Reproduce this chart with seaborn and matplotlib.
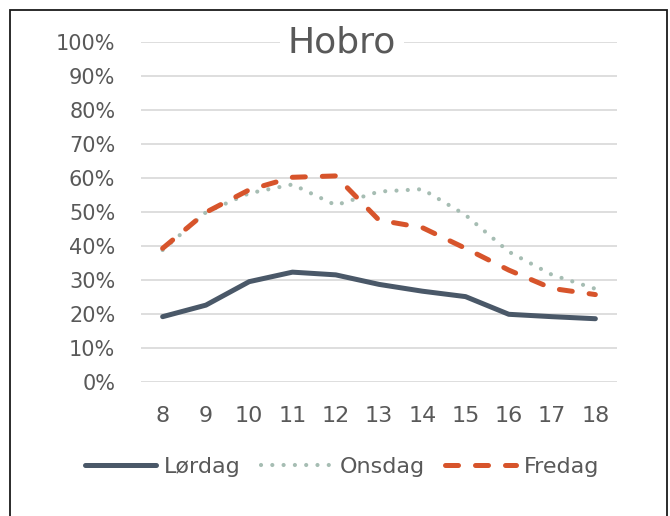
import matplotlib
matplotlib.use("Agg")
import matplotlib.pyplot as plt
from matplotlib.patches import Rectangle
import seaborn as sns
import numpy as np

hours = [8, 9, 10, 11, 12, 13, 14, 15, 16, 17, 18]
lordag = [0.193, 0.227, 0.296, 0.324, 0.316, 0.288, 0.268, 0.252, 0.200, 0.193, 0.187]
onsdag = [0.389, 0.500, 0.556, 0.582, 0.521, 0.561, 0.568, 0.492, 0.384, 0.316, 0.275]
fredag = [0.394, 0.500, 0.566, 0.603, 0.607, 0.477, 0.455, 0.394, 0.330, 0.276, 0.258]
series_names = ["Lørdag", "Onsdag", "Fredag"]
ytick_vals = [i / 10 for i in range(11)]
ytick_labels = [f"{i * 10}%" for i in range(11)]
title = "Hobro"

TXT = "#595959"
C_LOR = "#4A5868"
C_ONS = "#A6BDB3"
C_FRE = "#D7542B"

sns.set_theme(style="white")
plt.rcParams["font.family"] = ["DejaVu Sans"]

W, H = 670, 516
fig = plt.figure(figsize=(W / 100, H / 100), dpi=100)
ax = fig.add_axes([141 / W, (H - 382.3) / H, (617 - 141) / W, (382.3 - 42.3) / H])

sns.lineplot(x=hours, y=lordag, ax=ax, color=C_LOR, lw=3.6, label=series_names[0],
             solid_capstyle="round")
l_ons = sns.lineplot(x=hours, y=onsdag, ax=ax, color=C_ONS, lw=3.0, label=series_names[1])
l_fre = sns.lineplot(x=hours, y=fredag, ax=ax, color=C_FRE, lw=3.6, label=series_names[2])
lines = ax.get_lines()
lines[1].set_linestyle((0, (0.01, 2.7)))
lines[1].set_dash_capstyle("round")
lines[2].set_linestyle((0, (2.6, 3.4)))
lines[2].set_dash_capstyle("round")

ax.set_xlim(7.5, 18.5)
ax.set_ylim(0, 1)
ax.set_yticks(ytick_vals)
ax.set_yticklabels(ytick_labels)
ax.set_xticks(hours)
ax.set_xticklabels([str(h) for h in hours])
ax.tick_params(axis="y", labelsize=15, labelcolor=TXT, length=0, pad=18.5)
ax.tick_params(axis="x", labelsize=16, labelcolor=TXT, length=0, pad=17)
ax.grid(axis="y", color="#D4D4D4", lw=1.1)
ax.grid(axis="x", visible=False)
for s in ax.spines.values():
    s.set_visible(False)
ax.set_xlabel("")
ax.set_ylabel("")

ax.text(342 / W, 1 - 42.3 / H, title, transform=fig.transFigure, ha="center", va="center",
        fontsize=26, color=TXT,
        bbox=dict(facecolor="white", edgecolor="none", pad=6))

handles, labels = ax.get_legend_handles_labels()
ax.legend_.remove() if ax.legend_ else None
fig.legend(handles, labels, loc="center", bbox_to_anchor=(342 / W, 1 - 467 / H),
           ncol=3, frameon=False, fontsize=16, labelcolor=TXT,
           handlelength=3.2, handletextpad=0.35, columnspacing=0.9)

fig.patches.append(Rectangle((9.5 / W, -0.1), (666.5 - 9.5) / W, 1 - 10 / H + 0.1,
                             transform=fig.transFigure, fill=False,
                             edgecolor="#1A1A1A", lw=1.3))

fig.savefig("out.png", dpi=100)
